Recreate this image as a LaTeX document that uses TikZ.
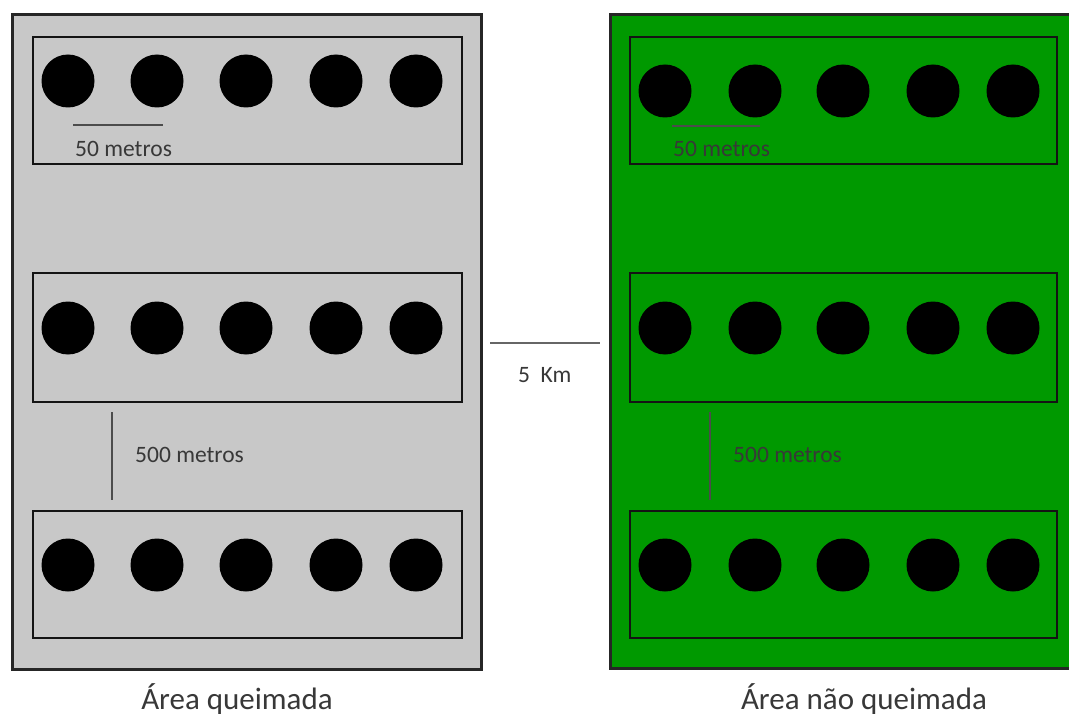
\documentclass[tikz,border=0pt]{standalone}
\usepackage{fontspec}
\setmainfont{Carlito}
\definecolor{burnt}{HTML}{C8C8C8}
\definecolor{grass}{HTML}{009900}
\definecolor{txt}{HTML}{383838}
\tikzset{
  outerbox/.style={draw=black!85, line width=3bp},
  innerbox/.style={draw=black!92, line width=2.4bp},
  plot/.style={fill=black},
  scalebar/.style={draw=black!70, line width=1.6bp},
  lbl/.style={inner sep=0pt, text=txt, font=\fontsize{23.5bp}{28bp}\selectfont},
  biglbl/.style={inner sep=0pt, text=txt, font=\fontsize{31bp}{36bp}\selectfont},
}
\begin{document}
\begin{tikzpicture}[x=1bp,y=-1bp]
\useasboundingbox (0,0) rectangle (1069,718);
\clip (0,0) rectangle (1069,718);
\fill[white] (0,0) rectangle (1069,718);
% outer areas
\draw[outerbox, fill=burnt] (12,15) rectangle (481,669);
\draw[outerbox, fill=grass] (610,15) rectangle (1085,668);
% inner plot rows
\foreach \ya/\yb in {37/164, 273/402, 511/638}{
  \draw[innerbox] (33,\ya) rectangle (462,\yb);
  \draw[innerbox] (630,\ya) rectangle (1057,\yb);
}
% circles left
\foreach \y in {81,328,565}{
  \foreach \x in {68,157,246,336,416}{
    \fill[plot] (\x,\y) circle (26.5);
  }
}
% circles right
\foreach \y in {91,328,565}{
  \foreach \x in {665,755,843,933,1013}{
    \fill[plot] (\x,\y) circle (26.5);
  }
}
% scale bars
\coordinate (a1) at (73,125); \coordinate (a2) at (163,125);
\coordinate (b1) at (672,126); \coordinate (b2) at (760,126);
\coordinate (c1) at (490,343); \coordinate (c2) at (600,343);
\coordinate (d1) at (112,412); \coordinate (d2) at (112,500);
\coordinate (e1) at (710,412); \coordinate (e2) at (710,500);
\draw[scalebar] (a1) -- (a2);
\draw[scalebar] (b1) -- (b2);
\draw[scalebar, draw=black!60] (c1) -- (c2);
\draw[scalebar] (d1) -- (d2);
\draw[scalebar] (e1) -- (e2);
% labels
\node[lbl, anchor=base west] (m50L) at (75,157) {50 metros};
\node[lbl, anchor=base west] (m50R) at (673,157) {50 metros};
\node[lbl, anchor=base west] (m500L) at (135,462) {500 metros};
\node[lbl, anchor=base west] (m500R) at (733,462) {500 metros};
\node[lbl, anchor=base west] (km) at (518,382) {5\ \ Km};
\node[biglbl, anchor=base] (areaL) at (237,709) {Área queimada};
\node[biglbl, anchor=base] (areaR) at (864,709) {Área não queimada};
\end{tikzpicture}
\end{document}
